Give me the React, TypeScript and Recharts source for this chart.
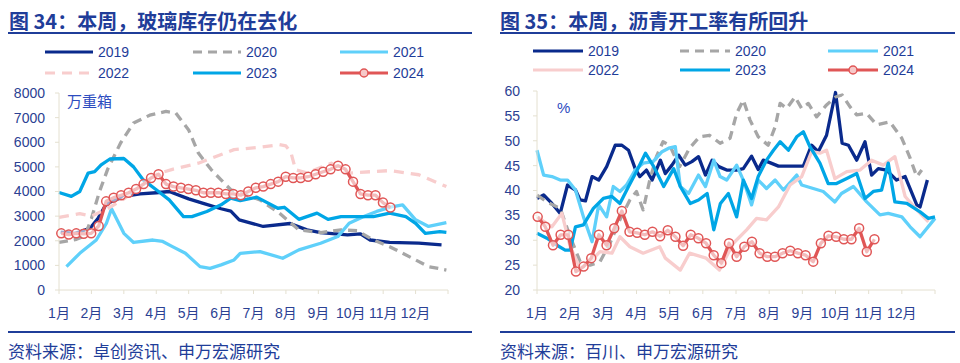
import { Line, LineChart, XAxis, YAxis } from "recharts";

const FONT = '"Liberation Sans", Arial, "Noto Sans CJK SC", sans-serif';
const CJK = '"Noto Sans CJK SC", "Liberation Sans", sans-serif';
const NAVY = "#1f3d99";
const TICK_COLOR = "#2b4193";
const AXIS_COLOR = "#e4e0d0";

const MONTHS = ["1月", "2月", "3月", "4月", "5月", "6月", "7月", "8月", "9月", "10月", "11月", "12月"];
const MONTH_TICKS = [0, 1, 2, 3, 4, 5, 6, 7, 8, 9, 10, 11, 12];
const YEARS = ["2019", "2020", "2021", "2022", "2023", "2024"];

// 玻璃库存 (万重箱), [月份位置, 数值]
const glass2019 = [[0.05, 2350], [0.5, 2300], [0.95, 2500], [1.2, 2900], [1.46, 3500], [2.0, 3800], [2.5, 3900], [3.0, 3950], [3.4, 4000], [4.0, 3700], [4.5, 3500], [5.0, 3300], [5.3, 3200], [5.56, 2850], [6.3, 2580], [7.13, 2700], [7.65, 2440], [8.07, 2330], [8.9, 2240], [9.3, 2280], [9.6, 2030], [10.2, 1930], [11.1, 1900], [11.8, 1830]];
const glass2020 = [[0, 1930], [0.54, 2060], [0.8, 2200], [1.0, 2900], [1.25, 4000], [1.5, 4900], [1.9, 5970], [2.3, 6780], [2.8, 7100], [3.3, 7250], [3.6, 7190], [4.0, 6500], [4.3, 5560], [4.7, 4880], [5.0, 4470], [5.3, 4070], [5.59, 3930], [6.2, 3660], [6.8, 3120], [7.4, 2440], [8.07, 2330], [8.7, 2440], [9.2, 2410], [9.7, 2030], [10.2, 1760], [10.9, 1290], [11.4, 950], [11.95, 810]];
const glass2021 = [[0.23, 950], [0.64, 1490], [1.15, 2030], [1.46, 2700], [1.62, 3300], [2.0, 2300], [2.3, 1930], [2.9, 2030], [3.2, 1970], [3.5, 1760], [3.9, 1490], [4.35, 950], [4.66, 880], [5.0, 1020], [5.4, 1220], [5.59, 1490], [6.2, 1560], [6.9, 1290], [7.4, 1630], [8.07, 1900], [8.6, 2170], [8.95, 2710], [9.4, 2980], [9.8, 3190], [10.3, 3390], [10.6, 3460], [11.0, 2850], [11.4, 2580], [11.95, 2740]];
const glass2022 = [[0, 2950], [0.64, 3100], [1.0, 3000], [1.5, 3300], [2.0, 3700], [2.5, 4200], [3.0, 4700], [3.5, 4900], [4.3, 5150], [5.4, 5700], [6.2, 5800], [6.8, 5900], [7.0, 5850], [7.15, 5600], [7.3, 4880], [7.65, 4750], [8.4, 5150], [8.95, 4750], [10.2, 4850], [11.1, 4680], [11.95, 4200]];
const glass2023 = [[0, 3960], [0.38, 3800], [0.64, 4000], [0.9, 4750], [1.1, 4810], [1.3, 5080], [1.57, 5320], [2.0, 5340], [2.3, 5000], [2.6, 4470], [3.0, 4070], [3.4, 3660], [3.84, 2980], [4.1, 2980], [4.56, 3190], [5.0, 3460], [5.3, 3730], [5.59, 3630], [6.1, 3770], [6.75, 3320], [6.95, 3360], [7.4, 2870], [7.96, 3120], [8.3, 2870], [8.7, 2980], [9.7, 2980], [10.2, 3120], [10.7, 2980], [11.0, 2710], [11.3, 2300], [11.75, 2370], [11.95, 2340]];
// 2024 weekly values
const glass2024 = [2300, 2250, 2300, 2280, 2300, 2600, 3600, 3750, 3850, 3950, 4100, 4300, 4550, 4700, 4300, 4200, 4150, 4100, 4050, 3950, 3950, 3950, 3900, 3900, 3850, 4000, 4150, 4200, 4300, 4400, 4600, 4550, 4550, 4600, 4700, 4800, 4900, 5050, 4900, 4400, 3900, 3850, 3850, 3550, 3350];

// 沥青开工率 (%)
const asph2019 = [[0, 38.4], [0.2, 39.1], [0.45, 37.4], [0.7, 35.4], [0.92, 41.1], [1.16, 40.1], [1.3, 38.1], [1.46, 37.9], [1.66, 42.8], [1.86, 42.1], [2.1, 44.8], [2.36, 49.1], [2.56, 49.1], [2.76, 48.1], [2.96, 44.4], [3.1, 42.8], [3.3, 44.1], [3.47, 42.1], [3.72, 46.1], [3.87, 43.4], [4.07, 45.1], [4.27, 47.1], [4.47, 45.1], [4.67, 45.8], [4.87, 46.8], [5.08, 43.1], [5.28, 46.1], [5.48, 44.8], [5.72, 44.1], [6.02, 44.1], [6.22, 44.4], [6.47, 46.9], [6.67, 44.2], [6.82, 46.1], [7.02, 45.6], [7.28, 44.9], [8.03, 44.9], [8.28, 49.1], [8.48, 47.8], [8.73, 51.1], [9.0, 59.7], [9.2, 49.5], [9.39, 49.1], [9.64, 46.1], [9.89, 49.8], [10.09, 43.1], [10.29, 44.4], [10.54, 44.1], [10.84, 42.1], [11.1, 42.8], [11.45, 37.1], [11.55, 36.7], [11.77, 42.1]];
const asph2020 = [[0, 39.1], [0.3, 37.7], [0.7, 36.4], [1.0, 30.7], [1.3, 25.7], [1.6, 25.0], [1.9, 25.7], [2.2, 29.4], [2.5, 34.1], [2.8, 38.1], [3.0, 39.8], [3.2, 36.1], [3.4, 42.1], [3.6, 46.8], [3.8, 49.8], [4.0, 49.1], [4.3, 44.8], [4.6, 48.5], [4.9, 50.8], [5.2, 51.1], [5.4, 50.1], [5.52, 49.5], [5.82, 50.5], [6.02, 55.5], [6.22, 58.2], [6.42, 54.2], [6.67, 50.8], [6.97, 49.1], [7.18, 52.8], [7.33, 57.5], [7.53, 56.5], [7.78, 58.8], [7.98, 56.5], [8.18, 57.5], [8.43, 54.8], [8.73, 57.2], [9.0, 58.8], [9.2, 59.2], [9.44, 56.8], [9.64, 55.2], [9.94, 55.5], [10.24, 53.2], [10.64, 53.8], [11.0, 50.5], [11.25, 46.5], [11.45, 42.8], [11.6, 44.1]];
const asph2021 = [[0, 48.1], [0.2, 43.1], [0.45, 42.8], [0.7, 42.1], [0.92, 42.1], [1.16, 40.1], [1.4, 34.7], [1.66, 29.7], [1.86, 37.1], [2.1, 34.7], [2.3, 40.8], [2.5, 39.8], [2.7, 41.1], [2.96, 44.1], [3.2, 45.5], [3.5, 45.8], [3.77, 47.8], [3.97, 48.5], [4.17, 48.8], [4.32, 40.8], [4.57, 39.4], [4.87, 43.1], [5.08, 40.8], [5.33, 46.1], [5.52, 42.8], [5.72, 42.1], [6.02, 45.1], [6.22, 42.1], [6.47, 37.1], [6.67, 42.1], [6.92, 40.4], [7.18, 42.1], [7.43, 40.1], [7.83, 43.1], [7.98, 41.1], [8.33, 40.4], [8.63, 39.8], [8.98, 37.7], [9.18, 39.4], [9.54, 40.8], [9.94, 37.7], [10.34, 35.1], [10.59, 35.4], [11.0, 34.7], [11.25, 32.7], [11.55, 30.7], [12.0, 34.4]];
const asph2022 = [[0, 34.7], [0.45, 32.7], [0.75, 35.4], [1.0, 28.7], [1.3, 24.4], [1.6, 25.7], [1.9, 27.7], [2.26, 27.4], [2.5, 30.7], [2.8, 28.7], [3.2, 27.4], [3.7, 28.7], [3.87, 26.4], [4.32, 24.0], [4.6, 27.4], [5.1, 26.4], [5.5, 24.0], [5.92, 29.4], [6.32, 32.1], [6.62, 34.4], [6.92, 34.1], [7.28, 36.7], [7.63, 41.1], [7.98, 42.8], [8.28, 47.8], [8.53, 47.5], [8.73, 48.1], [8.98, 42.4], [9.34, 43.8], [9.74, 44.1], [10.09, 46.1], [10.44, 45.1], [10.79, 46.8], [11.1, 38.8], [11.45, 36.1], [11.8, 33.7]];
const asph2023 = [[0, 31.4], [0.3, 30.4], [0.6, 29.0], [0.85, 28.0], [1.0, 28.0], [1.16, 32.7], [1.4, 33.1], [1.7, 36.4], [2.0, 38.4], [2.26, 38.8], [2.5, 37.4], [2.76, 40.8], [3.0, 43.8], [3.27, 47.5], [3.52, 44.8], [3.82, 40.8], [4.12, 44.4], [4.32, 40.8], [4.62, 37.4], [4.87, 38.1], [5.13, 39.4], [5.33, 32.1], [5.53, 37.4], [5.77, 39.4], [6.02, 34.7], [6.22, 42.1], [6.47, 38.4], [6.67, 42.8], [6.92, 46.1], [7.13, 48.1], [7.33, 49.8], [7.58, 48.1], [7.83, 50.8], [8.03, 51.8], [8.23, 48.8], [8.53, 45.5], [8.78, 41.4], [9.03, 41.4], [9.34, 42.4], [9.64, 43.4], [9.89, 38.4], [10.14, 39.8], [10.39, 40.1], [10.59, 45.5], [10.79, 37.7], [11.15, 37.4], [11.55, 35.7], [11.8, 34.4], [12.0, 34.7]];
// 2024 weekly values
const asph2024 = [34.7, 32.7, 29.0, 31.1, 31.1, 23.7, 24.7, 26.4, 31.1, 29.0, 32.4, 35.9, 31.7, 31.5, 31.1, 31.7, 30.8, 32.0, 30.7, 28.9, 31.1, 30.4, 29.4, 27.0, 25.4, 29.4, 26.7, 28.7, 29.7, 27.4, 26.7, 26.7, 27.4, 27.9, 27.4, 27.0, 25.7, 29.4, 30.9, 30.7, 30.2, 30.2, 32.4, 27.7, 30.2];

const WEEK = 12 / 52;
const pairs = (a: number[][]) => a.map(([x, v]) => ({ x, v }));
const weekly = (a: number[], start: number) => a.map((v, k) => ({ x: start + k * WEEK, v }));

type Style = { color: string; dash?: string; marker?: boolean };

const GLASS_STYLES: Style[] = [
    { color: "#0a2a8c" },
    { color: "#a6a6a6", dash: "9 6" },
    { color: "#5fd0fa" },
    { color: "#f8cdcd", dash: "10 7" },
    { color: "#00a6e6" },
    { color: "#e05656", marker: true },
];
const ASPH_STYLES: Style[] = [
    { color: "#0a2a8c" },
    { color: "#a6a6a6", dash: "9 6" },
    { color: "#5fd0fa" },
    { color: "#f8cdcd" },
    { color: "#00a6e6" },
    { color: "#e05656", marker: true },
];

const glassSeries = [pairs(glass2019), pairs(glass2020), pairs(glass2021), pairs(glass2022), pairs(glass2023), weekly(glass2024, 0.07)];
const asphSeries = [pairs(asph2019), pairs(asph2020), pairs(asph2021), pairs(asph2022), pairs(asph2023), weekly(asph2024, 0.02)];

function LegendBlock({ x0s, ys, styles, sampleW }: { x0s: number[]; ys: number[]; styles: Style[]; sampleW: number }) {
    return (
        <>
            {YEARS.map((y, i) => {
                const s = styles[i];
                const left = x0s[i % 3];
                const top = ys[Math.floor(i / 3)];
                return (
                    <div key={y} style={{ position: "absolute", left, top: top - 10, height: 20, display: "flex", alignItems: "center" }}>
                        <svg width={sampleW} height={12} style={{ display: "block" }}>
                            <line x1={1} y1={6} x2={sampleW - 1} y2={6} stroke={s.color} strokeWidth={3} strokeDasharray={s.dash} />
                            {s.marker && <circle cx={sampleW / 2} cy={6} r={4} stroke={s.color} strokeWidth={1.5} fill="#f6c9c9" />}
                        </svg>
                        <span style={{ marginLeft: 4, fontFamily: FONT, fontSize: 14, color: NAVY }}>{y}</span>
                    </div>
                );
            })}
        </>
    );
}

function SeriesChart({ series, styles, domain, ticks, margin, yWidth, yMargin }: {
    series: { x: number; v: number }[][]; styles: Style[]; domain: number[]; ticks: number[];
    margin: { top: number; right: number; left: number; bottom: number }; yWidth: number; yMargin: number;
}) {
    return (
        <LineChart width={480} height={250} margin={margin} style={{ fontFamily: FONT }}>
            <XAxis
                dataKey="x"
                type="number"
                domain={[0, 12]}
                ticks={MONTH_TICKS}
                interval={0}
                tickFormatter={(v: number) => MONTHS[v] ?? ""}
                allowDuplicatedCategory={false}
                axisLine={{ stroke: AXIS_COLOR }}
                tickLine={{ stroke: AXIS_COLOR }}
                tickSize={4}
                tickMargin={14}
                height={40}
                tick={{ fill: TICK_COLOR, fontSize: 14 }}
            />
            <YAxis
                type="number"
                domain={domain}
                ticks={ticks}
                interval={0}
                width={yWidth}
                axisLine={{ stroke: AXIS_COLOR }}
                tickLine={{ stroke: AXIS_COLOR }}
                tickSize={4}
                tickMargin={yMargin}
                tick={{ fill: TICK_COLOR, fontSize: 14 }}
            />
            {series.map((d, i) => {
                const s = styles[i];
                return (
                    <Line
                        key={YEARS[i]}
                        data={d}
                        dataKey="v"
                        type="linear"
                        stroke={s.color}
                        strokeWidth={3.3}
                        strokeDasharray={s.dash}
                        strokeLinejoin="round"
                        dot={s.marker ? { r: 4.5, stroke: s.color, strokeWidth: 1.5, fill: "rgba(255,255,255,0.6)" } : false}
                        isAnimationActive={false}
                    />
                );
            })}
        </LineChart>
    );
}

export default function App() {
    return (
        <div style={{ position: "relative", width: 960, height: 363, background: "#fff", overflow: "hidden" }}>
            <style>{`body{margin:0}`}</style>

            {/* LEFT PANEL */}
            <div style={{ position: "absolute", left: 9, top: 7, fontFamily: CJK, fontWeight: 700, fontSize: 20, color: NAVY, lineHeight: "28px", whiteSpace: "nowrap" }}>
                图 34：本周，玻璃库存仍在去化
            </div>
            <div style={{ position: "absolute", left: 8, top: 32, width: 464, height: 2, background: NAVY }} />
            <LegendBlock x0s={[44, 192, 339]} ys={[52, 73]} styles={GLASS_STYLES} sampleW={50} />
            <div style={{ position: "absolute", left: 0, top: 80 }}>
                <SeriesChart
                    series={glassSeries}
                    styles={GLASS_STYLES}
                    domain={[0, 8000]}
                    ticks={[0, 1000, 2000, 3000, 4000, 5000, 6000, 7000, 8000]}
                    margin={{ top: 13, right: 32, left: 0, bottom: 0 }}
                    yWidth={59}
                    yMargin={10}
                />
            </div>
            <div style={{ position: "absolute", left: 67, top: 90, fontFamily: CJK, fontSize: 15, color: "#2d4cbf" }}>万重箱</div>
            <div style={{ position: "absolute", left: 8, top: 331, width: 464, height: 2, background: NAVY }} />
            <div style={{ position: "absolute", left: 8, top: 338, fontFamily: CJK, fontSize: 17, color: NAVY, whiteSpace: "nowrap" }}>
                资料来源：卓创资讯、申万宏源研究
            </div>

            {/* RIGHT PANEL */}
            <div style={{ position: "absolute", left: 500, top: 7, fontFamily: CJK, fontWeight: 700, fontSize: 20, color: NAVY, lineHeight: "28px", whiteSpace: "nowrap" }}>
                图 35：本周，沥青开工率有所回升
            </div>
            <div style={{ position: "absolute", left: 500, top: 32, width: 455, height: 2, background: NAVY }} />
            <LegendBlock x0s={[532, 679, 827]} ys={[51, 70]} styles={ASPH_STYLES} sampleW={52} />
            <div style={{ position: "absolute", left: 480, top: 80 }}>
                <SeriesChart
                    series={asphSeries}
                    styles={ASPH_STYLES}
                    domain={[20, 60]}
                    ticks={[20, 25, 30, 35, 40, 45, 50, 55, 60]}
                    margin={{ top: 11, right: 25, left: 0, bottom: 0 }}
                    yWidth={57}
                    yMargin={13}
                />
            </div>
            <div style={{ position: "absolute", left: 557, top: 99, fontFamily: FONT, fontSize: 15, color: "#2d4cbf" }}>%</div>
            <div style={{ position: "absolute", left: 500, top: 331, width: 455, height: 2, background: NAVY }} />
            <div style={{ position: "absolute", left: 500, top: 338, fontFamily: CJK, fontSize: 17, color: NAVY, whiteSpace: "nowrap" }}>
                资料来源：百川、申万宏源研究
            </div>
        </div>
    );
}
